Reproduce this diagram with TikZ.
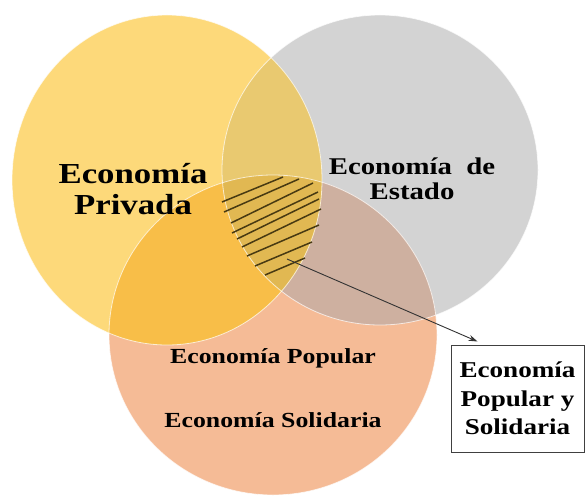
\documentclass[tikz,border=0pt]{standalone}
\usepackage{fontspec}
\newfontfamily\vennfont{Liberation Serif}[FakeStretch=1.2]
\usetikzlibrary{arrows.meta}
\definecolor{privcol}{RGB}{253,217,122}
\definecolor{estcol}{RGB}{211,211,211}
\definecolor{solcol}{RGB}{245,187,150}
\definecolor{pecol}{RGB}{233,201,112}
\definecolor{pscol}{RGB}{248,190,72}
\definecolor{escol}{RGB}{206,176,160}
\definecolor{allcol}{RGB}{225,184,82}
\definecolor{hatchcol}{RGB}{72,58,18}
\tikzset{
  venn/.style={draw=white, line width=0.8pt, draw opacity=0.7},
  lbl/.style={font=\vennfont\bfseries, align=center, inner sep=0pt},
  hatch/.style={draw=hatchcol, line width=1.5pt},
  pointer/.style={draw=black!80, line width=0.9pt, -{Stealth[length=9pt,width=6pt]}},
  boxed/.style={draw=black!75, line width=1pt, fill=white, minimum width=133pt, minimum height=107pt}
}

\begin{document}
\begin{tikzpicture}[x=1pt,y=-1pt]
\useasboundingbox (0,0) rectangle (585,495);
\fill[white] (0,0) rectangle (585,495);
% three circles
\fill[estcol] (380,170) ellipse [x radius=158pt, y radius=155pt];
\fill[solcol] (273,335) ellipse [x radius=164pt, y radius=160pt];
\fill[privcol] (167,180) ellipse [x radius=155pt, y radius=165pt];
% overlaps
\begin{scope}
\clip (380,170) ellipse [x radius=158pt, y radius=155pt];
\fill[escol] (273,335) ellipse [x radius=164pt, y radius=160pt];
\end{scope}
\begin{scope}
\clip (167,180) ellipse [x radius=155pt, y radius=165pt];
\fill[pecol] (380,170) ellipse [x radius=158pt, y radius=155pt];
\fill[pscol] (273,335) ellipse [x radius=164pt, y radius=160pt];
\clip (380,170) ellipse [x radius=158pt, y radius=155pt];
\fill[allcol] (273,335) ellipse [x radius=164pt, y radius=160pt];
\end{scope}
\draw[venn] (380,170) ellipse [x radius=158pt, y radius=155pt];
\draw[venn] (273,335) ellipse [x radius=164pt, y radius=160pt];
\draw[venn] (167,180) ellipse [x radius=155pt, y radius=165pt];
% hatching
\draw[hatch] (222,202) -- (283,177);
\draw[hatch] (224,212) -- (299,179);
\draw[hatch] (231,223) -- (313,183);
\draw[hatch] (232,233) -- (318,192);
\draw[hatch] (237,239) -- (319,199);
\draw[hatch] (242,247) -- (321,209);
\draw[hatch] (247,256) -- (319,225);
\draw[hatch] (255,266) -- (312,242);
\draw[hatch] (265,275) -- (305,258);
% labels
\node[lbl, font=\vennfont\bfseries\fontsize{29}{31}\selectfont] (priv) at (133,189) {Economía\\Privada};
\node[lbl, font=\vennfont\bfseries\fontsize{24}{25}\selectfont] (estado) at (412,179) {Economía\ \ de\\Estado};
\node[lbl, font=\vennfont\bfseries\fontsize{21.5}{24}\selectfont, anchor=base] (popular) at (273,363) {Economía Popular};
\node[lbl, font=\vennfont\bfseries\fontsize{21.5}{24}\selectfont, anchor=base] (solidaria) at (273,427) {Economía Solidaria};
\node[boxed, lbl, font=\vennfont\bfseries\fontsize{22.6}{28.5}\selectfont] (box) at (517.5,398.5) {Economía\\Popular y\\Solidaria};
\coordinate (hatchpt) at (287,259);
\coordinate (tip) at ([xshift=27pt,yshift=3pt]box.north west);
\draw[pointer] (hatchpt) -- (tip);
\end{tikzpicture}
\end{document}
